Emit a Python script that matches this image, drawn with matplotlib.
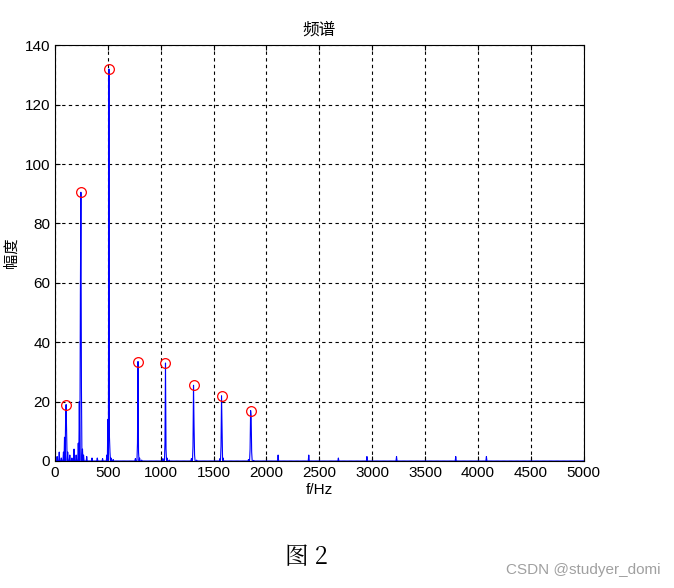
import matplotlib
matplotlib.use("Agg")
import matplotlib.pyplot as plt
import numpy as np

plt.rcParams['font.family'] = ['Liberation Sans', 'Noto Sans CJK SC', 'DejaVu Sans']

# spectrum: frequencies (Hz) and amplitudes of nonzero points
spec_f = [20, 40, 60, 80, 90, 100, 105, 110, 120, 140, 160, 180, 200, 220, 230, 240, 245, 250, 260, 270, 300, 350, 400, 450, 490, 500, 510, 515, 520, 530, 550,
          760, 780, 785, 790, 800, 820, 1020, 1040, 1045, 1050, 1060, 1080, 1290, 1305, 1310, 1315, 1320, 1340,
          1560, 1570, 1575, 1580, 1590, 1830, 1845, 1850, 1855, 1860, 1880,
          2110, 2400, 2680, 2950, 3230, 3790, 4080]
spec_a = [1.5, 3, 1, 3, 8, 13, 19, 10, 3, 2, 1, 4, 2, 6, 20, 56, 90.5, 25, 4, 2, 1.5, 1, 1, 0.8, 2, 14, 132, 8, 3, 1, 0.5,
          0.8, 6, 33.5, 3, 1, 0.3, 0.8, 6, 33, 4, 1, 0.3, 0.8, 5, 25.5, 12, 2, 0.3,
          0.8, 5, 22, 12, 1, 0.5, 4, 17, 15, 3, 0.2,
          2, 2, 1, 1.5, 1.5, 1.5, 1.5]
peak_f = [105, 245, 510, 785, 1045, 1310, 1575, 1850]
peak_a = [19, 90.5, 132, 33.5, 33, 25.5, 22, 17]

grid_f = np.arange(0, 5001, 5)
amp = np.zeros_like(grid_f, dtype=float)
for f, a in zip(spec_f, spec_a):
    amp[int(f // 5)] = a

fig = plt.figure(figsize=(6.74, 5.88), dpi=100)
ax = fig.add_axes([0.0816, 0.216, 0.7844, 0.707])
ax.plot(grid_f, amp, color='blue', lw=0.8)
ax.plot(peak_f, peak_a, 'o', mfc='none', mec='red', ms=7, mew=0.9)
ax.set_xlim(0, 5000)
ax.set_ylim(0, 140)
ax.set_xticks(range(0, 5001, 500))
ax.set_yticks(range(0, 141, 20))
ax.grid(True, color='black', ls=(0, (3, 3)), lw=0.8)
ax.tick_params(direction='in', labelsize=11, top=True, right=True)
for s in ax.spines.values():
    s.set_linewidth(0.8)
ax.set_title('频谱', fontsize=12, pad=8)
ax.set_xlabel('f/Hz', fontsize=11, labelpad=2)
ax.set_ylabel('幅度', fontsize=11, labelpad=4)
fig.text(0.455, 0.052, '图 2', fontsize=17, ha='center', va='center', family=['Noto Serif CJK SC', 'Noto Sans CJK SC'])
fig.text(0.98, 0.03, 'CSDN @studyer_domi', fontsize=11, color='#a0a0a0', ha='right', va='center')
fig.savefig('out.png', dpi=100)
